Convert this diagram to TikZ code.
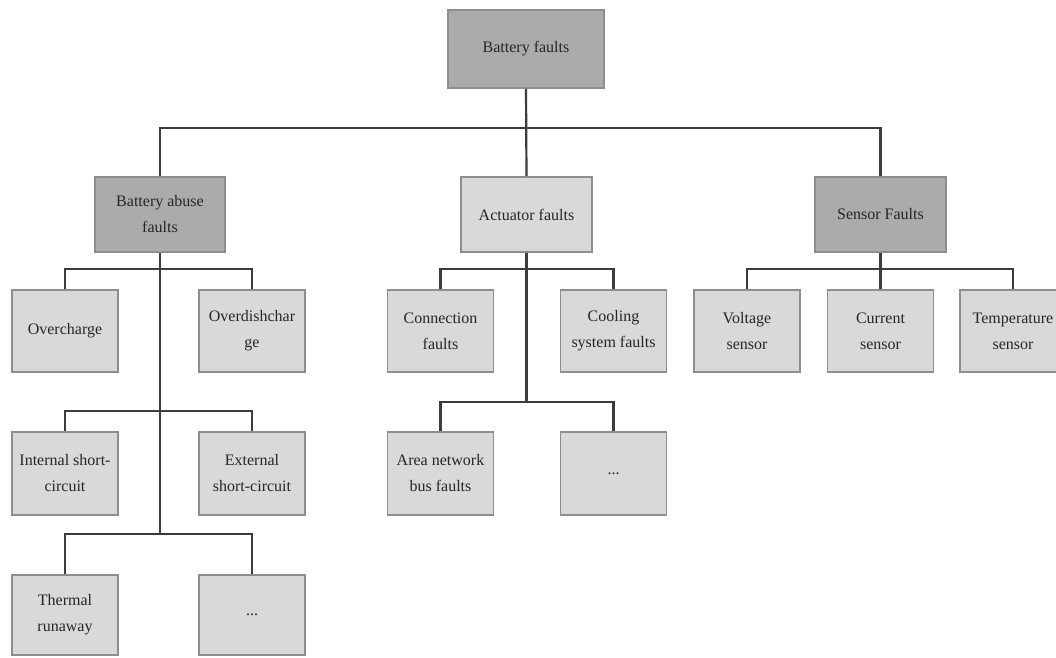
\documentclass[tikz,border=0pt]{standalone}
\usepackage{fontspec}
\setmainfont{Liberation Serif}
\definecolor{darkfill}{HTML}{ABABAB}
\definecolor{lightfill}{HTML}{D9D9D9}
\definecolor{edge}{HTML}{8E8E8E}
\definecolor{wire}{HTML}{3C3C3C}
\definecolor{txt}{HTML}{262626}
\tikzset{
  box/.style={draw=edge, line width=1.6pt, inner sep=2pt, align=center, text=txt,
    font=\fontsize{16}{26}\selectfont},
  darkbox/.style={box, fill=darkfill},
  lightbox/.style={box, fill=lightfill},
  leaf/.style={lightbox, minimum width=106pt, minimum height=82pt},
  conn/.style={draw=wire, line width=2.2pt}
}
\begin{document}
\begin{tikzpicture}[x=1pt,y=-1pt]
\useasboundingbox (0,0) rectangle (1056,657);
\fill[white] (0,0) rectangle (1056,657);
% level 0
\node[darkbox, minimum width=156pt, minimum height=78pt] (top) at (526,49) {Battery faults};
% level 1
\node[darkbox, minimum width=130pt, minimum height=75pt] (abuse) at (160,214.5) {Battery abuse\\faults};
\node[lightbox, minimum width=131pt, minimum height=75pt] (act) at (526.5,214.5) {Actuator faults};
\node[darkbox, minimum width=131pt, minimum height=75pt] (sens) at (880.5,214.5) {Sensor Faults};
% level 2
\node[leaf] (over) at (65,331) {Overcharge};
\node[leaf] (overd) at (252,331) {Overdishchar\\ge};
\node[leaf] (conn) at (440.5,331) {Connection\\faults};
\node[leaf] (cool) at (613.5,331) {Cooling\\system faults};
\node[leaf] (volt) at (747,331) {Voltage\\sensor};
\node[leaf] (curr) at (880.5,331) {Current\\sensor};
\node[leaf] (temp) at (1013,331) {Temperature\\sensor};
% level 3
\node[leaf, minimum height=83pt] (ints) at (65,473.5) {Internal short-\\circuit};
\node[leaf, minimum height=83pt] (exts) at (252,473.5) {External\\short-circuit};
\node[leaf, minimum height=83pt] (area) at (440.5,473.5) {Area network\\bus faults};
\node[leaf, minimum height=83pt] (dotsb) at (613.5,473.5) {...};
% level 4
\node[leaf, minimum height=80pt] (therm) at (65,615) {Thermal\\runaway};
\node[leaf, minimum height=80pt] (dotsa) at (252,615) {...};
% end points of trunks
\coordinate (abuseend) at (160,535);
\coordinate (actend) at (526.5,403);
% connectors
\draw[conn] (top.south) -- (act.north);
\draw[conn] (abuse.north) -- ++(0,-48) -| (sens.north);
\draw[conn] (abuse.south) -- (abuseend);
\draw[conn] (over.north) -- ++(0,-20) -| (overd.north);
\draw[conn] (ints.north) -- ++(0,-20) -| (exts.north);
\draw[conn] (therm.north) -- ++(0,-40) -| (dotsa.north);
\draw[conn] (act.south) -- (actend);
\draw[conn] (conn.north) -- ++(0,-20) -| (cool.north);
\draw[conn] (area.north) -- ++(0,-29) -| (dotsb.north);
\draw[conn] (sens.south) -- (curr.north);
\draw[conn] (volt.north) -- ++(0,-20) -| (temp.north);
\end{tikzpicture}
\end{document}
